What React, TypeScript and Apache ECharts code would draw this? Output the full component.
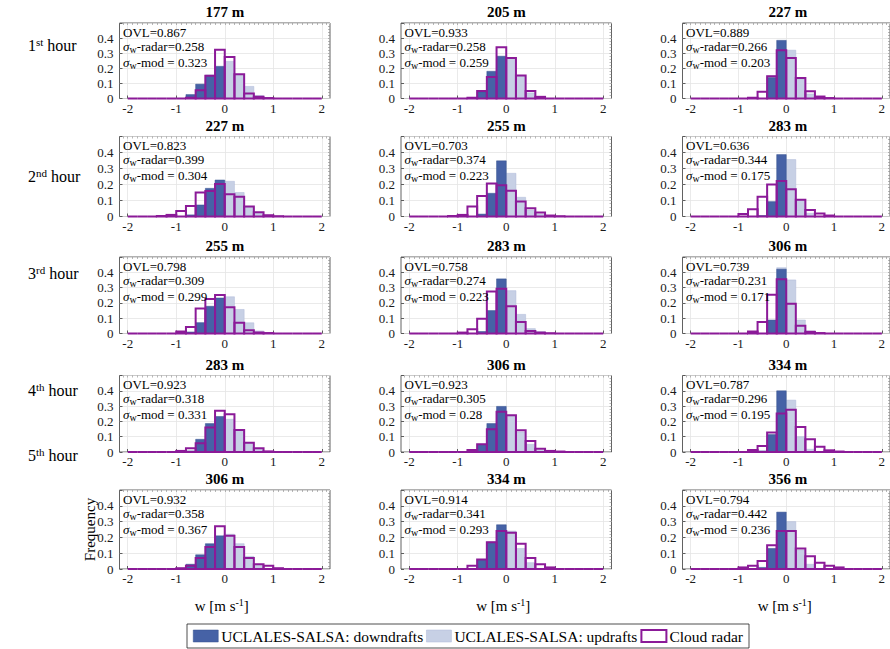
import React, { useEffect, useRef } from 'react';
import * as echarts from 'echarts';

// ---------------- data ----------------
const binEdges = [-2, -1.8, -1.6, -1.4, -1.2, -1, -0.8, -0.6, -0.4, -0.2, 0, 0.2, 0.4, 0.6, 0.8, 1, 1.2, 1.4, 1.6, 1.8, 2];
const xTickValues = [-2, -1, 0, 1, 2];
const yTickValues = [0, 0.1, 0.2, 0.3, 0.4];

const hourNumbers = ['1', '2', '3', '4', '5'];
const hourSuffixes = ['st', 'nd', 'rd', 'th', 'th'];
const panelHeights = ['177 m', '205 m', '227 m', '227 m', '255 m', '283 m', '255 m', '283 m', '306 m', '283 m', '306 m', '334 m', '306 m', '334 m', '356 m'];
const ovlValues = ['0.867', '0.933', '0.889', '0.823', '0.703', '0.636', '0.798', '0.758', '0.739', '0.923', '0.923', '0.787', '0.932', '0.914', '0.794'];
const sigmaRadar = ['0.258', '0.258', '0.266', '0.399', '0.374', '0.344', '0.309', '0.274', '0.231', '0.318', '0.305', '0.296', '0.358', '0.341', '0.442'];
const sigmaMod = ['0.323', '0.259', '0.203', '0.304', '0.223', '0.175', '0.299', '0.223', '0.171', '0.331', '0.28', '0.195', '0.367', '0.293', '0.236'];

// 20 bins of width 0.2 from -2 to 2
const down_h1_177 = [0, 0, 0, 0, 0, 0, 0.026, 0.095, 0.154, 0.213, 0, 0, 0, 0, 0, 0, 0, 0, 0, 0];
const up_h1_177 = [0, 0, 0, 0, 0, 0, 0, 0, 0, 0, 0.246, 0.16, 0.08, 0.02, 0, 0, 0, 0, 0, 0];
const radar_h1_177 = [0, 0, 0, 0, 0, 0, 0.005, 0.055, 0.15, 0.323, 0.275, 0.16, 0.033, 0.011, 0.003, 0, 0, 0, 0, 0];

const down_h1_205 = [0, 0, 0, 0, 0, 0, 0, 0.044, 0.18, 0.28, 0, 0, 0, 0, 0, 0, 0, 0, 0, 0];
const up_h1_205 = [0, 0, 0, 0, 0, 0, 0, 0, 0, 0, 0.268, 0.15, 0.037, 0, 0, 0, 0, 0, 0, 0];
const radar_h1_205 = [0, 0, 0, 0, 0, 0, 0.005, 0.05, 0.143, 0.34, 0.268, 0.152, 0.05, 0.011, 0, 0, 0, 0, 0, 0];

const down_h1_227 = [0, 0, 0, 0, 0, 0, 0, 0, 0.138, 0.385, 0, 0, 0, 0, 0, 0, 0, 0, 0, 0];
const up_h1_227 = [0, 0, 0, 0, 0, 0, 0, 0, 0.15, 0, 0.32, 0.13, 0.03, 0, 0, 0, 0, 0, 0, 0];
const radar_h1_227 = [0, 0, 0, 0, 0, 0, 0.005, 0.044, 0.147, 0.319, 0.268, 0.136, 0.048, 0.013, 0.003, 0, 0, 0, 0, 0];

const down_h2_227 = [0, 0, 0, 0, 0, 0, 0.01, 0.072, 0.176, 0.228, 0, 0, 0, 0, 0, 0, 0, 0, 0, 0];
const up_h2_227 = [0, 0, 0, 0, 0, 0, 0, 0, 0, 0, 0.22, 0.15, 0.06, 0.02, 0, 0, 0, 0, 0, 0];
const radar_h2_227 = [0, 0, 0, 0.003, 0.01, 0.035, 0.066, 0.15, 0.16, 0.203, 0.139, 0.124, 0.062, 0.027, 0.008, 0.002, 0, 0, 0, 0];

const down_h2_255 = [0, 0, 0, 0, 0, 0, 0, 0.015, 0.145, 0.348, 0, 0, 0, 0, 0, 0, 0, 0, 0, 0];
const up_h2_255 = [0, 0, 0, 0, 0, 0, 0, 0, 0, 0, 0.27, 0.12, 0.04, 0.015, 0, 0, 0, 0, 0, 0];
const radar_h2_255 = [0, 0, 0, 0, 0.003, 0.01, 0.062, 0.128, 0.207, 0.195, 0.161, 0.093, 0.052, 0.025, 0.006, 0.002, 0, 0, 0, 0];

const down_h2_283 = [0, 0, 0, 0, 0, 0, 0, 0.006, 0.093, 0.387, 0, 0, 0, 0, 0, 0, 0, 0, 0, 0];
const up_h2_283 = [0, 0, 0, 0, 0, 0, 0, 0, 0, 0, 0.356, 0.1, 0.02, 0, 0, 0, 0, 0, 0, 0];
const radar_h2_283 = [0, 0, 0, 0, 0, 0.015, 0.045, 0.124, 0.2, 0.222, 0.17, 0.104, 0.041, 0.019, 0.006, 0, 0, 0, 0, 0];

const down_h3_255 = [0, 0, 0, 0, 0, 0, 0.01, 0.071, 0.178, 0.232, 0, 0, 0, 0, 0, 0, 0, 0, 0, 0];
const up_h3_255 = [0, 0, 0, 0, 0, 0, 0, 0, 0, 0, 0.24, 0.157, 0.07, 0.017, 0, 0, 0, 0, 0, 0];
const radar_h3_255 = [0, 0, 0, 0, 0, 0.013, 0.043, 0.163, 0.226, 0.252, 0.172, 0.071, 0.021, 0.006, 0.003, 0, 0, 0, 0, 0];

const down_h3_283 = [0, 0, 0, 0, 0, 0, 0, 0.013, 0.15, 0.357, 0, 0, 0, 0, 0, 0, 0, 0, 0, 0];
const up_h3_283 = [0, 0, 0, 0, 0, 0, 0, 0, 0, 0, 0.28, 0.125, 0.032, 0.013, 0, 0, 0, 0, 0, 0];
const radar_h3_283 = [0, 0, 0, 0, 0, 0.006, 0.028, 0.097, 0.275, 0.292, 0.178, 0.075, 0.017, 0.006, 0.002, 0, 0, 0, 0, 0];

const down_h3_306 = [0, 0, 0, 0, 0, 0, 0, 0, 0.088, 0.42, 0, 0, 0, 0, 0, 0, 0, 0, 0, 0];
const up_h3_306 = [0, 0, 0, 0, 0, 0, 0, 0, 0, 0.43, 0.35, 0.088, 0.017, 0, 0, 0, 0, 0, 0, 0];
const radar_h3_306 = [0, 0, 0, 0, 0, 0, 0.013, 0.075, 0.254, 0.355, 0.194, 0.05, 0.011, 0.003, 0, 0, 0, 0, 0, 0];

const down_h4_283 = [0, 0, 0, 0, 0, 0, 0.007, 0.083, 0.186, 0.232, 0, 0, 0, 0, 0, 0, 0, 0, 0, 0];
const up_h4_283 = [0, 0, 0, 0, 0, 0, 0, 0, 0, 0, 0.214, 0.144, 0.061, 0.018, 0, 0, 0, 0, 0, 0];
const radar_h4_283 = [0, 0, 0, 0, 0, 0.007, 0.024, 0.057, 0.16, 0.269, 0.247, 0.144, 0.061, 0.024, 0.004, 0, 0, 0, 0, 0];

const down_h4_306 = [0, 0, 0, 0, 0, 0, 0.009, 0.05, 0.186, 0.298, 0, 0, 0, 0, 0, 0, 0, 0, 0, 0];
const up_h4_306 = [0, 0, 0, 0, 0, 0, 0, 0, 0, 0, 0.236, 0.131, 0.05, 0.011, 0, 0, 0, 0, 0, 0];
const radar_h4_306 = [0, 0, 0, 0, 0, 0, 0.013, 0.05, 0.149, 0.263, 0.24, 0.142, 0.072, 0.022, 0.007, 0.003, 0, 0, 0, 0];

const down_h4_334 = [0, 0, 0, 0, 0, 0, 0, 0.007, 0.114, 0.4, 0, 0, 0, 0, 0, 0, 0, 0, 0, 0];
const up_h4_334 = [0, 0, 0, 0, 0, 0, 0, 0, 0, 0, 0.339, 0.1, 0.018, 0, 0, 0, 0, 0, 0, 0];
const radar_h4_334 = [0, 0, 0, 0, 0, 0, 0.013, 0.039, 0.127, 0.252, 0.276, 0.164, 0.083, 0.035, 0.011, 0.003, 0, 0, 0, 0];

const down_h5_306 = [0, 0, 0, 0, 0, 0, 0.03, 0.09, 0.16, 0.21, 0, 0, 0, 0, 0, 0, 0, 0, 0, 0];
const up_h5_306 = [0, 0, 0, 0, 0, 0, 0, 0, 0, 0, 0.22, 0.16, 0.08, 0.03, 0, 0, 0, 0, 0, 0];
const radar_h5_306 = [0, 0, 0, 0, 0, 0.005, 0.02, 0.07, 0.14, 0.27, 0.21, 0.14, 0.07, 0.03, 0.02, 0.005, 0, 0, 0, 0];

const down_h5_334 = [0, 0, 0, 0, 0, 0, 0, 0.06, 0.17, 0.28, 0, 0, 0, 0, 0, 0, 0, 0, 0, 0];
const up_h5_334 = [0, 0, 0, 0, 0, 0, 0, 0, 0, 0, 0.24, 0.13, 0.04, 0, 0, 0, 0, 0, 0, 0];
const radar_h5_334 = [0, 0, 0, 0, 0, 0, 0.02, 0.06, 0.17, 0.24, 0.23, 0.16, 0.07, 0.03, 0.01, 0, 0, 0, 0, 0];

const down_h5_356 = [0, 0, 0, 0, 0, 0, 0, 0.01, 0.13, 0.36, 0, 0, 0, 0, 0, 0, 0, 0, 0, 0];
const up_h5_356 = [0, 0, 0, 0, 0, 0, 0, 0, 0, 0, 0.3, 0.12, 0.03, 0, 0, 0, 0, 0, 0, 0];
const radar_h5_356 = [0, 0, 0, 0, 0, 0.01, 0.02, 0.05, 0.15, 0.24, 0.24, 0.13, 0.08, 0.04, 0.02, 0.01, 0, 0, 0, 0];

const downSeries = [down_h1_177, down_h1_205, down_h1_227, down_h2_227, down_h2_255, down_h2_283, down_h3_255, down_h3_283, down_h3_306, down_h4_283, down_h4_306, down_h4_334, down_h5_306, down_h5_334, down_h5_356];
const upSeries = [up_h1_177, up_h1_205, up_h1_227, up_h2_227, up_h2_255, up_h2_283, up_h3_255, up_h3_283, up_h3_306, up_h4_283, up_h4_306, up_h4_334, up_h5_306, up_h5_334, up_h5_356];
const radarSeries = [radar_h1_177, radar_h1_205, radar_h1_227, radar_h2_227, radar_h2_255, radar_h2_283, radar_h3_255, radar_h3_283, radar_h3_306, radar_h4_283, radar_h4_306, radar_h4_334, radar_h5_306, radar_h5_334, radar_h5_356];

// ---------------- style / layout ----------------
const FAMILY = 'Liberation Serif';
const FONT = "'Liberation Serif', serif";
const DARK = '#4662a6';
const LIGHT = '#c7d0e5';
const PURPLE = '#8b1a98';
const TXT = '#1a1a1a';
const NAME_DOWN = 'UCLALES-SALSA: downdrafts';
const NAME_UP = 'UCLALES-SALSA: updrafts';
const NAME_RADAR = 'Cloud radar';

const COL_LEFT = [119.5, 401, 682.5];
const GRID_W = 210.5;
const ROW_TOP = [23, 136.5, 257, 375.5, 490];
const ROW_H = [75.5, 80, 76.5, 76.5, 79];
const X_MIN = -2.17;
const X_MAX = 2.17;

function makeOption() {
  const grids: any[] = [];
  const xAxes: any[] = [];
  const yAxes: any[] = [];
  const series: any[] = [];
  const graphics: any[] = [];

  const minorX: number[] = [];
  for (let k = -21; k <= 21; k++) minorX.push(k / 10);
  const minorY: number[] = [];
  for (let k = 1; k < 25; k++) minorY.push(k / 50);

  for (let r = 0; r < 5; r++) {
    for (let c = 0; c < 3; c++) {
      const g = r * 3 + c;
      const left = COL_LEFT[c];
      const top = ROW_TOP[r];
      const h = ROW_H[r];
      grids.push({
        left, top, width: GRID_W, height: h,
        show: true, borderColor: '#3a3a3a', borderWidth: 0.8, backgroundColor: '#ffffff',
      });
      xAxes.push({
        type: 'value', gridIndex: g, min: X_MIN, max: X_MAX, position: 'bottom',
        axisLine: { show: false, onZero: false },
        axisTick: { show: true, inside: true, length: 3, customValues: xTickValues, lineStyle: { color: '#3a3a3a', width: 0.8 } },
        axisLabel: {
          show: true, customValues: xTickValues, margin: 3,
          fontFamily: FAMILY, fontSize: 13, color: TXT,
          formatter: (v: number) => String(Math.round(v)),
        },
        splitLine: { show: true, lineStyle: { color: '#e4e4e4', width: 0.8 } },
      });
      xAxes.push({
        type: 'value', gridIndex: g, min: X_MIN, max: X_MAX, position: 'top',
        axisLine: { show: false, onZero: false },
        axisTick: { show: true, inside: true, length: 2, customValues: minorX, lineStyle: { color: '#888', width: 0.6 } },
        axisLabel: { show: false },
        splitLine: { show: false },
      });
      yAxes.push({
        type: 'value', gridIndex: g, min: 0, max: 0.5, interval: 0.1, position: 'left',
        axisLine: { show: false, onZero: false },
        axisTick: { show: true, inside: true, length: 3, lineStyle: { color: '#3a3a3a', width: 0.8 } },
        axisLabel: {
          show: true, customValues: yTickValues, margin: 6,
          fontFamily: FAMILY, fontSize: 13, color: TXT,
          formatter: (v: number) => (v === 0 ? '0' : v.toFixed(1)),
        },
        splitLine: { show: true, lineStyle: { color: '#e4e4e4', width: 0.8 } },
      });
      yAxes.push({
        type: 'value', gridIndex: g, min: 0, max: 0.5, position: 'right',
        axisLine: { show: false, onZero: false },
        axisTick: { show: true, inside: true, length: 2, customValues: minorY, lineStyle: { color: '#888', width: 0.6 } },
        axisLabel: { show: false },
        splitLine: { show: false },
      });

      const xi = g * 2;
      const yi = g * 2;
      const mk = (values: number[], keepZero: boolean) => {
        const out: any[] = [];
        values.forEach((v, i) => {
          if (keepZero || v > 0) out.push([binEdges[i], binEdges[i + 1], v]);
        });
        return out;
      };
      const barRender = (fill: string, stroke: string, lw: number) => (params: any, api: any) => {
        const p0 = api.coord([api.value(0), api.value(2)]);
        const p1 = api.coord([api.value(1), 0]);
        return {
          type: 'rect',
          shape: { x: p0[0], y: p0[1], width: p1[0] - p0[0], height: p1[1] - p0[1] },
          style: { fill, stroke, lineWidth: lw },
        };
      };
      series.push({
        type: 'custom', name: NAME_UP, xAxisIndex: xi, yAxisIndex: yi, z: 2, silent: true,
        itemStyle: { color: LIGHT },
        data: mk(upSeries[g], false), encode: { x: [0, 1], y: 2 },
        renderItem: barRender(LIGHT, '#aeb9d8', 0.5),
      });
      series.push({
        type: 'custom', name: NAME_DOWN, xAxisIndex: xi, yAxisIndex: yi, z: 3, silent: true,
        itemStyle: { color: DARK },
        data: mk(downSeries[g], false), encode: { x: [0, 1], y: 2 },
        renderItem: barRender(DARK, '#34508f', 0.5),
      });
      series.push({
        type: 'custom', name: NAME_RADAR, xAxisIndex: xi, yAxisIndex: yi, z: 4, silent: true, clip: false,
        itemStyle: { color: PURPLE },
        data: mk(radarSeries[g], true), encode: { x: [0, 1], y: 2 },
        renderItem: barRender('none', PURPLE, 2),
      });

      // panel title
      graphics.push({
        type: 'text', x: left + GRID_W / 2, y: top - 11, z: 100,
        style: { text: panelHeights[g], font: `bold 15px ${FONT}`, fill: '#000', textAlign: 'center', textVerticalAlign: 'middle' },
      });
      // stats text
      const tx = left + 3.5;
      graphics.push({
        type: 'text', x: tx, y: top + 9, z: 100,
        style: { text: 'OVL=' + ovlValues[g], font: `13px ${FONT}`, fill: '#000', textAlign: 'left', textVerticalAlign: 'middle' },
      });
      const sigmaText = (label: string, y: number) => ({
        type: 'text', x: tx, y, z: 100,
        style: {
          text: `{s|σ}{sub|w}{n|${label}}`,
          textAlign: 'left', textVerticalAlign: 'middle',
          rich: {
            s: { font: `italic 13px ${FONT}`, fill: '#000', lineHeight: 16, verticalAlign: 'middle' },
            sub: { font: `10px ${FONT}`, fill: '#000', lineHeight: 8, verticalAlign: 'bottom' },
            n: { font: `13px ${FONT}`, fill: '#000', lineHeight: 16, verticalAlign: 'middle' },
          },
        },
      });
      graphics.push(sigmaText('-radar=' + sigmaRadar[g], top + 23));
      graphics.push(sigmaText('-mod = ' + sigmaMod[g], top + 39));
    }
  }

  // hour labels on the left
  const hourY = [45, 176, 273, 390, 455];
  hourNumbers.forEach((n, i) => {
    graphics.push({
      type: 'text', x: 28, y: hourY[i], z: 100,
      style: {
        text: `{n|${n}}{sup|${hourSuffixes[i]}}{n| hour}`,
        textAlign: 'left', textVerticalAlign: 'middle',
        rich: {
          n: { font: `16px ${FONT}`, fill: '#000', lineHeight: 18, verticalAlign: 'middle' },
          sup: { font: `11px ${FONT}`, fill: '#000', lineHeight: 10, verticalAlign: 'top' },
        },
      },
    });
  });

  // y label
  graphics.push({
    type: 'text', x: 90, y: ROW_TOP[4] + ROW_H[4] / 2, rotation: Math.PI / 2, z: 100,
    style: { text: 'Frequency', font: `15px ${FONT}`, fill: '#000', textAlign: 'center', textVerticalAlign: 'middle' },
  });
  // x labels
  COL_LEFT.forEach((l) => {
    graphics.push({
      type: 'text', x: l + GRID_W / 2 - 3, y: 606, z: 100,
      style: {
        text: '{n|w [m s}{sup|-1}{n|]}',
        textAlign: 'center', textVerticalAlign: 'middle',
        rich: {
          n: { font: `15px ${FONT}`, fill: '#000', lineHeight: 18, verticalAlign: 'middle' },
          sup: { font: `10px ${FONT}`, fill: '#000', lineHeight: 10, verticalAlign: 'top' },
        },
      },
    });
  });

  return {
    animation: false,
    backgroundColor: '#ffffff',
    grid: grids,
    xAxis: xAxes,
    yAxis: yAxes,
    series,
    graphic: graphics,
    legend: {
      left: 187, top: 624,
      orient: 'horizontal',
      itemWidth: 25, itemHeight: 12, itemGap: 3,
      padding: [4, 6, 4, 6],
      borderColor: '#222', borderWidth: 0.8,
      selectedMode: false,
      textStyle: { fontFamily: FAMILY, fontSize: 15.5, color: '#000', padding: [0, 0, 0, -2] },
      data: [
        { name: NAME_DOWN, icon: 'rect', itemStyle: { color: DARK, borderColor: '#34508f', borderWidth: 0.5 } },
        { name: NAME_UP, icon: 'rect', itemStyle: { color: LIGHT, borderColor: '#aeb9d8', borderWidth: 0.5 } },
        { name: NAME_RADAR, icon: 'rect', itemStyle: { color: 'rgba(0,0,0,0)', borderColor: PURPLE, borderWidth: 2 } },
      ],
    },
  };
}

export default function App() {
  const ref = useRef<HTMLDivElement>(null);
  useEffect(() => {
    if (!ref.current) return;
    const chart = echarts.init(ref.current, undefined, { renderer: 'svg' });
    chart.setOption(makeOption() as any);
    return () => chart.dispose();
  }, []);
  return (
    <div
      ref={ref}
      style={{ position: 'absolute', left: 0, top: 0, width: 890, height: 649, background: '#fff' }}
    />
  );
}
